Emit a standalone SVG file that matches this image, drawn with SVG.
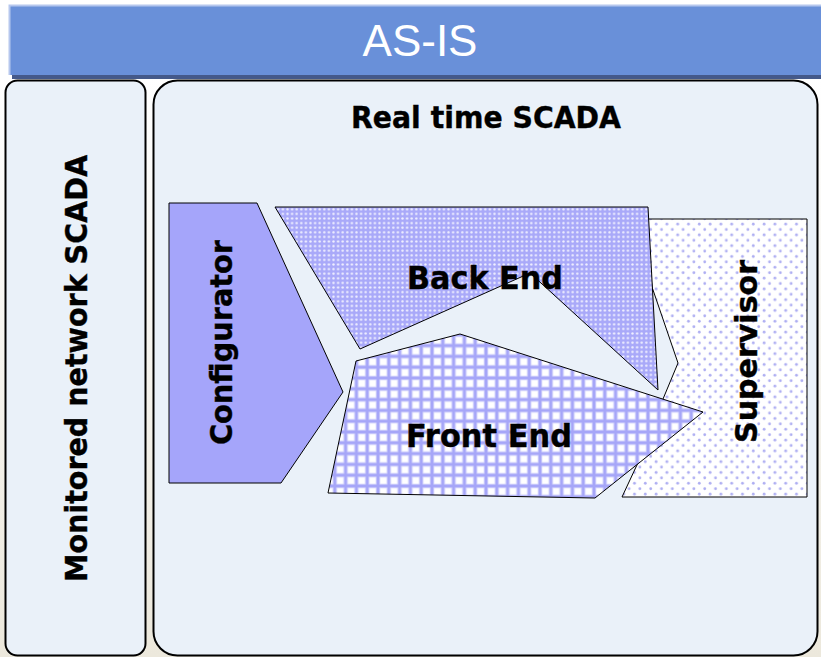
<svg xmlns="http://www.w3.org/2000/svg" width="821" height="657" viewBox="0 0 821 657">
  <defs>
    <linearGradient id="bgGrad" x1="0" y1="0" x2="0" y2="1">
      <stop offset="0" stop-color="#ffffff"/>
      <stop offset="1" stop-color="#ece8dc"/>
    </linearGradient>
    <pattern id="patBack" patternUnits="userSpaceOnUse" width="4.6" height="4.6">
      <rect width="4.6" height="4.6" fill="#a9a9f9"/>
      <circle cx="2.3" cy="2.3" r="1.2" fill="#efefff"/>
    </pattern>
    <pattern id="patFront" patternUnits="userSpaceOnUse" width="10.8" height="10.8">
      <rect width="10.8" height="10.8" fill="#a6a6f8"/>
      <rect x="1.4" y="1.4" width="8" height="8" fill="#d8d8fd"/>
      <rect x="2.3" y="2.3" width="6.2" height="6.2" fill="#ffffff"/>
    </pattern>
    <pattern id="patSup" patternUnits="userSpaceOnUse" width="10.8" height="10.8">
      <rect width="10.8" height="10.8" fill="#ffffff"/>
      <circle cx="2.7" cy="2.7" r="1.4" fill="#aeaef2"/>
      <circle cx="8.1" cy="8.1" r="1.4" fill="#aeaef2"/>
    </pattern>
  </defs>
  <style>
    .panel { fill: #eaf1f9; stroke: #000; stroke-width: 2; }
    .shape { stroke: #000; stroke-width: 1; }
    .lbl { font-family: "DejaVu Sans", Verdana, sans-serif; font-weight: bold; fill: #000; stroke: #000; stroke-width: 0.4; text-anchor: middle; }
  </style>

  <rect x="0" y="0" width="821" height="657" fill="#ffffff"/>
  <rect x="0" y="78" width="821" height="579" fill="url(#bgGrad)"/>

  <g id="header">
    <rect x="12" y="74" width="809" height="5" fill="#44598a"/>
    <rect x="9" y="5" width="812" height="70" fill="#6990d9"/>
    <path d="M9.5 75 V5.5 H821" fill="none" stroke="#b6c7ee" stroke-width="2"/>
    <text x="420" y="56" font-family="Liberation Sans, Arial, sans-serif" font-size="44" fill="#ffffff" text-anchor="middle">AS-IS</text>
  </g>

  <g id="monitored-network">
    <rect class="panel" x="5.5" y="80.5" width="140" height="575" rx="12" ry="12"/>
    <text class="lbl" font-size="31" textLength="427" lengthAdjust="spacingAndGlyphs" transform="translate(87 368.5) rotate(-90)">Monitored network SCADA</text>
  </g>

  <g id="real-time-scada">
    <rect class="panel" x="153.5" y="80.5" width="664" height="575" rx="24" ry="24"/>
    <text class="lbl" x="486" y="128" font-size="31" textLength="270" lengthAdjust="spacingAndGlyphs">Real time SCADA</text>
  </g>

  <g id="supervisor">
    <polygon class="shape" fill="url(#patSup)" points="645,219 807,219 807,497 622,497 636,467 660,420 663,399 678,363 652,287"/>
    <text class="lbl" font-size="31" textLength="183" lengthAdjust="spacingAndGlyphs" transform="translate(757 351.5) rotate(-90)">Supervisor</text>
  </g>

  <g id="back-end">
    <polygon class="shape" fill="url(#patBack)" points="275,207 648,207 658,390 530,273 360,349"/>
    <text class="lbl" x="485" y="289" font-size="32" textLength="156" lengthAdjust="spacingAndGlyphs">Back End</text>
  </g>

  <g id="front-end">
    <polygon class="shape" fill="url(#patFront)" points="356,361 460,334 703,412 595,498 328,493"/>
    <text class="lbl" x="489" y="447" font-size="32" textLength="166" lengthAdjust="spacingAndGlyphs">Front End</text>
  </g>

  <g id="configurator">
    <polygon class="shape" fill="#a5a5fa" points="169,203 257,203 343,392 281,483 169,483"/>
    <text class="lbl" font-size="31" textLength="205" lengthAdjust="spacingAndGlyphs" transform="translate(232 342.5) rotate(-90)">Configurator</text>
  </g>

  <g id="connectors"/>
</svg>
